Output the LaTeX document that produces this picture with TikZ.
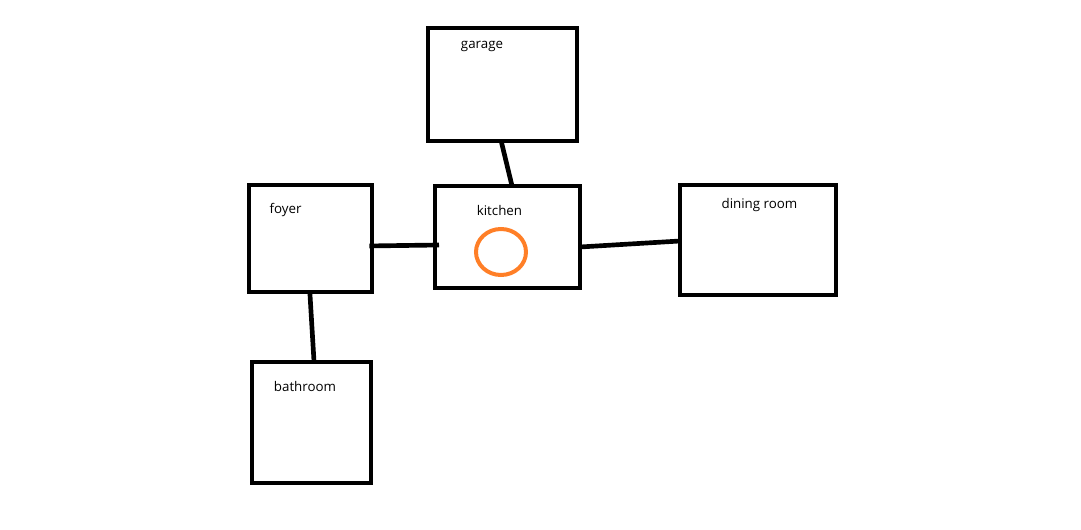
\documentclass[tikz,border=0pt]{standalone}
\usepackage{fontspec}
\setmainfont{Open Sans}
\usetikzlibrary{shapes.geometric}
\definecolor{ovenorange}{RGB}{255,127,39}
\tikzset{
 px/.style={x=0.75pt,y=-0.75pt},
 room/.style={draw=black,line width=3.5pt,rectangle,inner sep=0pt,outer sep=0pt},
 lbl/.style={font=\fontsize{10}{12}\selectfont,text=black,inner sep=0pt},
 link/.style={draw=black,line width=3.5pt}
}
\begin{document}
\begin{tikzpicture}[px]
\useasboundingbox (0,0) rectangle (1081,530);
\node[room,minimum width=111.75pt,minimum height=84.75pt] (garage) at (502.5,84.5) {};
\node[room,minimum width=92.25pt,minimum height=80.25pt] (foyer) at (310.5,238.5) {};
\node[room,minimum width=108.75pt,minimum height=76.5pt] (kitchen) at (507.5,237) {};
\node[room,minimum width=117pt,minimum height=82.5pt] (dining) at (758,240) {};
\node[room,minimum width=89.25pt,minimum height=90.75pt] (bathroom) at (311.5,422.5) {};
\draw[link] ([xshift=-1pt]garage.south) -- ([xshift=3.4pt]kitchen.north);
\draw[link] ([xshift=-2pt,yshift=-5.6pt]foyer.east) -- ([xshift=3pt,yshift=-6pt]kitchen.west);
\draw[link] ([yshift=-7.5pt]kitchen.east) -- ([yshift=-0.75pt]dining.west);
\draw[link] ([xshift=-0.5pt]foyer.south) -- ([xshift=1.9pt]bathroom.north);
\node[lbl] (garagelbl) at (482,46.5) {garage};
\node[lbl] (foyerlbl) at (285.5,210.5) {foyer};
\node[lbl] (kitchenlbl) at (499.5,210.5) {kitchen};
\node[lbl] (dininglbl) at (759.5,205.5) {dining room};
\node[lbl] (bathroomlbl) at (305,386.5) {bathroom};
\node[draw=ovenorange,line width=3pt,ellipse,minimum width=37.5pt,minimum height=34.5pt,inner sep=0pt] (oven) at (501,252) {};
\end{tikzpicture}
\end{document}
